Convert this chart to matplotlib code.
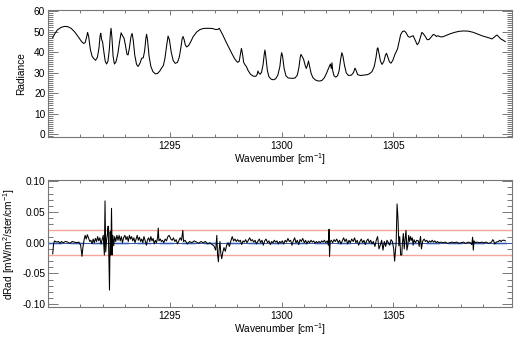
import matplotlib
matplotlib.use('Agg')
import matplotlib.pyplot as plt
from matplotlib.ticker import MultipleLocator, FixedLocator, FormatStrFormatter

# ---------------- data ----------------
rad_wn = [1289.76, 1289.87, 1289.97, 1290.13, 1290.28, 1290.43, 1290.58, 1290.73, 1290.88,
          1291.04, 1291.14, 1291.21, 1291.27, 1291.32, 1291.37, 1291.44, 1291.52, 1291.60,
          1291.68, 1291.76, 1291.83, 1291.88, 1291.91, 1291.95, 1291.99, 1292.05, 1292.11,
          1292.17, 1292.23, 1292.29, 1292.34, 1292.37, 1292.41, 1292.46, 1292.52, 1292.59,
          1292.67, 1292.75, 1292.82, 1292.88, 1292.95, 1293.01, 1293.08, 1293.13, 1293.19,
          1293.26, 1293.31, 1293.36, 1293.43, 1293.51, 1293.58, 1293.66, 1293.74, 1293.81,
          1293.87, 1293.93, 1293.96, 1294.00, 1294.07, 1294.15, 1294.24, 1294.35, 1294.45,
          1294.55, 1294.64, 1294.71, 1294.78, 1294.86, 1294.92, 1294.98, 1295.06, 1295.15,
          1295.24, 1295.34, 1295.42, 1295.49, 1295.55, 1295.59, 1295.64, 1295.69, 1295.75,
          1295.84, 1295.94, 1296.04, 1296.20, 1296.35, 1296.50, 1296.70, 1296.90, 1297.05,
          1297.16, 1297.21, 1297.26, 1297.36, 1297.51, 1297.66, 1297.81, 1297.93, 1298.03,
          1298.10, 1298.15, 1298.20, 1298.25, 1298.30, 1298.36, 1298.42, 1298.50, 1298.60,
          1298.72, 1298.84, 1298.90, 1298.94, 1298.98, 1299.04, 1299.10, 1299.17, 1299.22,
          1299.25, 1299.29, 1299.36, 1299.43, 1299.53, 1299.63, 1299.73, 1299.83, 1299.92,
          1299.97, 1300.00, 1300.04, 1300.11, 1300.19, 1300.29, 1300.39, 1300.49, 1300.60,
          1300.70, 1300.77, 1300.83, 1300.86, 1300.91, 1300.98, 1301.05, 1301.10, 1301.15,
          1301.20, 1301.25, 1301.32, 1301.40, 1301.51, 1301.61, 1301.71, 1301.81, 1301.91,
          1302.01, 1302.11, 1302.18, 1302.22, 1302.25, 1302.28, 1302.34, 1302.42, 1302.50,
          1302.57, 1302.63, 1302.69, 1302.74, 1302.81, 1302.89, 1302.99, 1303.12, 1303.21,
          1303.28, 1303.33, 1303.40, 1303.53, 1303.68, 1303.83, 1303.93, 1304.04, 1304.14,
          1304.22, 1304.27, 1304.30, 1304.35, 1304.42, 1304.49, 1304.57, 1304.64, 1304.69,
          1304.75, 1304.82, 1304.89, 1304.97, 1305.07, 1305.18, 1305.25, 1305.32, 1305.40,
          1305.48, 1305.56, 1305.64, 1305.72, 1305.80, 1305.88, 1305.96, 1306.06, 1306.13,
          1306.21, 1306.27, 1306.33, 1306.41, 1306.51, 1306.60, 1306.70, 1306.78, 1306.84,
          1306.92, 1306.98, 1307.04, 1307.12, 1307.22, 1307.37, 1307.53, 1307.73, 1307.93,
          1308.13, 1308.34, 1308.54, 1308.74, 1308.94, 1309.10, 1309.25, 1309.40, 1309.50,
          1309.58, 1309.63, 1309.70, 1309.80, 1309.90, 1310.00]
rad_val = [47.0, 49.2, 50.8, 52.0, 52.5, 52.4, 51.6, 50.0, 47.8,
           45.3, 44.2, 44.6, 47.0, 49.6, 47.5, 41.5, 38.0, 36.8,
           36.0, 37.5, 42.0, 48.0, 49.2, 46.0, 45.0, 40.0, 35.5,
           34.2, 35.5, 41.0, 49.0, 51.6, 47.0, 38.0, 34.2, 35.2,
           39.0, 45.0, 49.4, 48.0, 46.8, 43.5, 39.0, 38.6, 42.0,
           47.5, 49.1, 46.0, 38.5, 34.0, 33.0, 34.5, 37.0, 37.2,
           40.5, 47.0, 48.7, 46.0, 38.0, 33.0, 30.5, 29.4, 29.6,
           30.8, 32.4, 33.5, 37.0, 43.5, 47.8, 46.0, 40.0, 35.8,
           34.5, 35.0, 37.5, 42.0, 46.5, 47.6, 46.0, 43.5, 42.5,
           43.2, 45.2, 47.5, 49.8, 51.0, 51.5, 51.6, 51.5, 51.0,
           51.1, 51.6, 50.6, 48.5, 45.0, 41.8, 38.5, 36.2, 35.0,
           35.5, 38.5, 41.8, 39.0, 35.0, 33.8, 33.0, 31.0, 29.3,
           28.3, 28.2, 29.0, 30.8, 29.8, 29.2, 30.2, 34.0, 39.0,
           41.0, 38.0, 31.0, 28.0, 26.8, 26.5, 27.0, 28.8, 33.0,
           38.0, 39.7, 38.0, 32.0, 28.5, 27.4, 27.3, 27.2, 27.4,
           28.8, 32.5, 37.5, 38.9, 38.0, 36.5, 33.5, 32.0, 33.5,
           35.7, 33.0, 29.5, 27.5, 26.4, 26.0, 25.9, 26.3, 27.5,
           29.8, 32.5, 34.2, 32.0, 34.8, 31.0, 28.5, 27.8, 28.5,
           31.0, 36.0, 39.7, 38.0, 33.5, 29.8, 28.6, 28.8, 30.0,
           32.2, 31.0, 29.0, 28.6, 28.8, 29.0, 29.5, 30.5, 33.0,
           37.5, 41.5, 42.1, 39.5, 35.5, 34.0, 35.5, 38.5, 39.4,
           37.5, 35.2, 34.6, 36.0, 39.0, 41.5, 45.0, 48.5, 50.0,
           50.3, 49.5, 47.8, 47.2, 47.6, 48.0, 46.0, 43.6, 44.5,
           47.5, 49.6, 49.0, 47.8, 46.0, 46.2, 47.5, 48.6, 48.4,
           47.6, 48.0, 47.7, 47.4, 47.5, 48.2, 48.9, 49.6, 50.1,
           50.3, 50.2, 49.7, 48.9, 48.0, 47.5, 47.0, 46.4, 47.2,
           48.0, 48.3, 47.5, 46.4, 45.8, 45.1]

drad_wn = [1289.76, 1289.80, 1289.84, 1289.92, 1290.02, 1290.08, 1290.15, 1290.23, 1290.33,
           1290.43, 1290.53, 1290.63, 1290.73, 1290.83, 1290.93, 1291.01, 1291.07, 1291.11,
           1291.16, 1291.21, 1291.26, 1291.31, 1291.36, 1291.42, 1291.47, 1291.52, 1291.57,
           1291.62, 1291.67, 1291.72, 1291.77, 1291.82, 1291.87, 1291.92, 1291.97, 1292.02,
           1292.07, 1292.10, 1292.13, 1292.17, 1292.21, 1292.24, 1292.27, 1292.30, 1292.33,
           1292.36, 1292.39, 1292.42, 1292.45, 1292.49, 1292.53, 1292.58, 1292.63, 1292.68,
           1292.73, 1292.78, 1292.83, 1292.88, 1292.93, 1292.99, 1293.04, 1293.09, 1293.14,
           1293.19, 1293.24, 1293.29, 1293.34, 1293.39, 1293.44, 1293.49, 1293.54, 1293.59,
           1293.64, 1293.69, 1293.74, 1293.79, 1293.84, 1293.89, 1293.95, 1294.00, 1294.05,
           1294.10, 1294.15, 1294.20, 1294.25, 1294.30, 1294.35, 1294.40, 1294.45, 1294.48,
           1294.51, 1294.57, 1294.62, 1294.67, 1294.73, 1294.79, 1294.85, 1294.91, 1294.97,
           1295.04, 1295.10, 1295.16, 1295.22, 1295.28, 1295.34, 1295.40, 1295.46, 1295.52,
           1295.58, 1295.61, 1295.68, 1295.78, 1295.88, 1295.98, 1296.09, 1296.19, 1296.29,
           1296.39, 1296.49, 1296.59, 1296.69, 1296.79, 1296.89, 1296.97, 1297.05, 1297.10,
           1297.13, 1297.17, 1297.20, 1297.24, 1297.28, 1297.32, 1297.37, 1297.42, 1297.48,
           1297.54, 1297.60, 1297.66, 1297.72, 1297.79, 1297.85, 1297.91, 1297.97, 1298.03,
           1298.09, 1298.15, 1298.21, 1298.27, 1298.33, 1298.39, 1298.45, 1298.51, 1298.57,
           1298.63, 1298.69, 1298.75, 1298.81, 1298.87, 1298.93, 1299.00, 1299.06, 1299.12,
           1299.18, 1299.24, 1299.30, 1299.37, 1299.43, 1299.49, 1299.55, 1299.61, 1299.67,
           1299.73, 1299.79, 1299.85, 1299.91, 1299.97, 1300.03, 1300.09, 1300.16, 1300.22,
           1300.28, 1300.34, 1300.40, 1300.46, 1300.52, 1300.58, 1300.64, 1300.70, 1300.76,
           1300.82, 1300.88, 1300.94, 1301.01, 1301.07, 1301.13, 1301.19, 1301.25, 1301.31,
           1301.37, 1301.43, 1301.49, 1301.55, 1301.61, 1301.67, 1301.73, 1301.79, 1301.85,
           1301.91, 1301.97, 1302.04, 1302.09, 1302.12, 1302.14, 1302.17, 1302.22, 1302.28,
           1302.34, 1302.40, 1302.46, 1302.53, 1302.59, 1302.65, 1302.71, 1302.77, 1302.83,
           1302.89, 1302.95, 1303.01, 1303.07, 1303.13, 1303.20, 1303.26, 1303.32, 1303.38,
           1303.44, 1303.50, 1303.56, 1303.62, 1303.68, 1303.74, 1303.80, 1303.86, 1303.92,
           1303.98, 1304.04, 1304.10, 1304.17, 1304.23, 1304.29, 1304.35, 1304.41, 1304.47,
           1304.53, 1304.59, 1304.65, 1304.71, 1304.77, 1304.83, 1304.89, 1304.95, 1305.01,
           1305.05, 1305.12, 1305.16, 1305.20, 1305.24, 1305.28, 1305.32, 1305.37, 1305.40,
           1305.44, 1305.48, 1305.52, 1305.56, 1305.60, 1305.64, 1305.68, 1305.72, 1305.76,
           1305.80, 1305.84, 1305.88, 1305.92, 1305.98, 1306.04, 1306.11, 1306.15, 1306.19,
           1306.21, 1306.25, 1306.31, 1306.37, 1306.43, 1306.49, 1306.55, 1306.61, 1306.67,
           1306.73, 1306.79, 1306.85, 1306.91, 1306.97, 1307.03, 1307.12, 1307.22, 1307.32,
           1307.42, 1307.52, 1307.62, 1307.72, 1307.83, 1307.93, 1308.03, 1308.13, 1308.23,
           1308.34, 1308.44, 1308.50, 1308.54, 1308.57, 1308.60, 1308.66, 1308.74, 1308.84,
           1308.96, 1309.04, 1309.14, 1309.25, 1309.35, 1309.40, 1309.44, 1309.48, 1309.53,
           1309.60, 1309.69, 1309.75, 1309.81, 1309.87, 1309.95, 1310.00]
drad_val = [-0.018, -0.002, 0.003, 0.001, 0.002, -0.001, 0.002, 0.000, 0.002,
            0.001, -0.001, 0.002, 0.001, 0.000, 0.001, -0.004, -0.022, -0.008,
            0.004, 0.012, 0.006, 0.013, 0.008, 0.002, 0.004, -0.002, 0.006,
            0.000, 0.007, 0.002, 0.010, 0.003, 0.008, -0.002, 0.005, 0.012,
            -0.020, 0.068, -0.015, 0.005, 0.015, 0.027, -0.020, -0.077, 0.018,
            -0.020, 0.056, -0.020, 0.012, -0.005, 0.010, 0.002, 0.012, 0.004,
            0.012, 0.003, 0.010, 0.000, 0.008, 0.012, 0.005, 0.010, 0.002,
            0.012, 0.006, 0.010, 0.003, 0.008, 0.000, 0.006, 0.012, 0.004,
            0.009, 0.002, 0.006, 0.000, 0.010, 0.004, -0.004, 0.005, 0.008,
            0.002, 0.010, 0.003, 0.007, -0.002, 0.004, 0.000, 0.008, 0.024,
            0.003, 0.006, 0.002, 0.004, 0.000, 0.006, 0.003, 0.010, 0.012,
            0.006, 0.004, 0.008, 0.002, 0.005, -0.002, 0.003, 0.008, 0.004,
            0.020, 0.002, 0.004, -0.002, 0.002, 0.000, 0.003, 0.001, -0.001,
            0.002, 0.000, 0.002, -0.002, 0.000, -0.003, -0.005, -0.012, 0.012,
            -0.018, -0.031, -0.012, 0.002, -0.018, -0.026, -0.015, -0.008, -0.014,
            -0.004, 0.000, -0.006, 0.002, 0.010, 0.003, 0.006, 0.002, 0.005,
            0.002, 0.004, -0.003, 0.003, 0.001, 0.005, 0.000, 0.004, 0.008,
            0.003, 0.005, 0.001, 0.004, -0.002, 0.002, 0.006, 0.000, 0.004,
            -0.004, 0.003, 0.006, 0.000, 0.003, -0.003, 0.002, 0.000, 0.004,
            0.001, 0.003, -0.002, 0.002, 0.000, 0.003, -0.002, 0.004, 0.001,
            0.007, 0.002, 0.004, -0.004, 0.003, 0.008, 0.000, 0.004, -0.003,
            0.005, 0.002, 0.007, 0.000, 0.004, -0.002, 0.003, 0.000, 0.004,
            0.001, 0.003, -0.001, 0.002, 0.000, 0.002, 0.000, 0.003, 0.001,
            0.004, 0.000, 0.003, -0.004, 0.022, -0.022, 0.002, 0.004, 0.000,
            0.005, 0.002, 0.006, 0.000, 0.004, -0.002, 0.003, 0.008, 0.002,
            0.006, -0.002, 0.004, 0.000, 0.006, 0.002, 0.008, 0.000, 0.004,
            -0.004, 0.002, 0.006, 0.000, 0.004, -0.003, 0.003, 0.006, 0.000,
            0.004, -0.002, 0.002, -0.006, 0.004, 0.010, -0.010, -0.004, 0.004,
            -0.012, 0.002, -0.006, 0.004, 0.000, -0.004, 0.005, 0.002, -0.010,
            -0.030, 0.000, 0.063, 0.040, -0.005, 0.010, -0.020, -0.020, 0.000,
            0.015, -0.010, 0.006, 0.020, -0.012, -0.005, 0.012, 0.002, 0.010,
            0.004, 0.008, -0.004, 0.005, 0.000, 0.004, 0.003, -0.006, 0.006,
            0.010, -0.010, 0.003, 0.006, 0.002, 0.004, 0.000, 0.003, 0.001,
            0.004, 0.001, 0.003, 0.000, 0.002, 0.000, 0.001, 0.000, 0.001,
            -0.001, 0.000, 0.001, 0.000, 0.001, -0.001, 0.000, 0.001, -0.001,
            0.001, 0.000, -0.003, 0.009, -0.012, 0.003, 0.000, 0.001, 0.000,
            0.001, 0.000, 0.001, -0.001, 0.000, 0.002, 0.005, 0.003, -0.002,
            0.001, 0.002, 0.004, 0.002, 0.004, 0.004, 0.003]

limit_level = 0.02
rad_yticks = [0, 10, 20, 30, 40, 50, 60]
drad_yticks = [-0.10, -0.05, 0.00, 0.05, 0.10]
wn_ticks = [1295, 1300, 1305]
wn_minor = [1291, 1292, 1293, 1294, 1296, 1297, 1298, 1299,
            1301, 1302, 1303, 1304, 1306, 1307, 1308, 1309]

# ---------------- style ----------------
plt.rcParams['font.family'] = ['Liberation Sans', 'DejaVu Sans']
plt.rcParams['mathtext.fontset'] = 'custom'
plt.rcParams['mathtext.rm'] = 'Liberation Sans'
plt.rcParams['mathtext.it'] = 'Liberation Sans'
plt.rcParams['axes.unicode_minus'] = False
FS = 7.3
AXC = '#777777'

W, H = 528, 337
fig = plt.figure(figsize=(W / 100, H / 100), dpi=100)
left, right = 48.0, 512.0
ax1 = fig.add_axes([left / W, 1 - 137.3 / H, (right - left) / W, 127.3 / H])
ax2 = fig.add_axes([left / W, 1 - 307.3 / H, (right - left) / W, 127.3 / H])


def style(ax):
    for s in ax.spines.values():
        s.set_color(AXC)
        s.set_linewidth(0.8)
    ax.xaxis.set_major_locator(FixedLocator(wn_ticks))
    ax.xaxis.set_minor_locator(FixedLocator(wn_minor))
    ax.tick_params(axis='both', which='both', direction='in', top=True, right=True,
                   color=AXC, width=0.7, labelsize=FS, labelcolor='black')
    ax.tick_params(axis='x', which='major', length=3.5, pad=3.0)
    ax.tick_params(axis='x', which='minor', length=2.5)
    ax.tick_params(axis='y', which='major', length=7.5, pad=2)
    ax.tick_params(axis='y', which='minor', length=3.5)
    ax.set_xlim(1289.55, 1310.3)
    ax.set_xlabel('Wavenumber [cm$^{-1}$]', fontsize=FS, va='center')
    ax.xaxis.set_label_coords(0.5, -0.168)


# Top panel
style(ax1)
ax1.plot(rad_wn, rad_val, color='black', lw=0.75)
ax1.set_ylim(-1.5, 60.5)
ax1.yaxis.set_major_locator(FixedLocator(rad_yticks))
ax1.yaxis.set_minor_locator(MultipleLocator(1))
ax1.yaxis.set_major_formatter(FormatStrFormatter('%d'))
ax1.set_ylabel('Radiance', fontsize=FS, va='center')
ax1.yaxis.set_label_coords(-0.058, 0.5)

# Bottom panel
style(ax2)
ax2.axhline(limit_level, color='#f4a69c', lw=1.0)
ax2.axhline(-limit_level, color='#f4a69c', lw=1.0)
ax2.axhline(0.0, color='#b9cdf3', lw=2.0, dashes=(5, 3))
ax2.axhline(0.0, color='#3556a8', lw=0.7)
ax2.plot(drad_wn, drad_val, color='black', lw=0.75)
ax2.set_ylim(-0.105, 0.102)
ax2.yaxis.set_major_locator(FixedLocator(drad_yticks))
ax2.yaxis.set_minor_locator(MultipleLocator(0.01))
ax2.yaxis.set_major_formatter(FormatStrFormatter('%.2f'))
ax2.set_ylabel('dRad [mW/m$^2$/ster/cm$^{-1}$]', fontsize=FS, va='center')
ax2.yaxis.set_label_coords(-0.083, 0.5)

fig.savefig('out.png', dpi=100)
